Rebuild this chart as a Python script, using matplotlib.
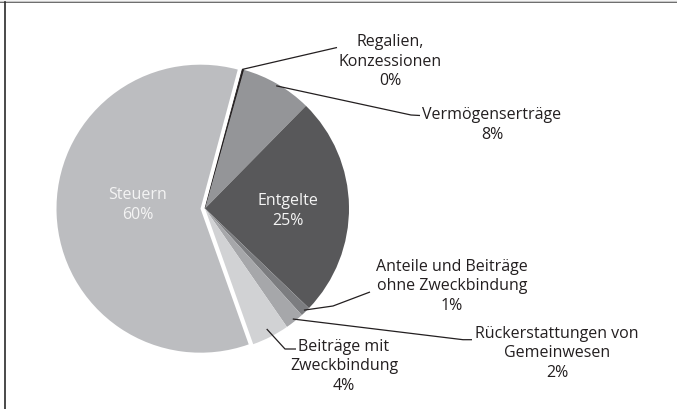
import numpy as np
import matplotlib
matplotlib.use("Agg")
import matplotlib.pyplot as plt
from matplotlib.lines import Line2D

W, H = 677, 410

categories = ["Regalien, Konzessionen", "Vermögenserträge", "Entgelte",
              "Anteile und Beiträge ohne Zweckbindung",
              "Rückerstattungen von Gemeinwesen",
              "Beiträge mit Zweckbindung", "Steuern"]
values = [0.2, 8.0, 24.8, 1.1, 2.1, 4.2, 59.6]
label_texts = ["Regalien,\nKonzessionen", "Vermögenserträge", "Entgelte",
               "Anteile und Beiträge\nohne Zweckbindung",
               "Rückerstattungen von\nGemeinwesen",
               "Beiträge mit\nZweckbindung", "Steuern"]
colors = ["#231f20", "#949598", "#58585a", "#7c7d80", "#a6a7aa", "#d1d2d4", "#bcbdc0"]

plt.rcParams['font.family'] = ['Open Sans', 'DejaVu Sans']

fig = plt.figure(figsize=(W / 100, H / 100), dpi=100)
ax = fig.add_axes([0, 0, 1, 1])

def py(y):
    return H - y

cx, cy, R = 205, py(209.5), 144
STEUERN_OFFSET = 4.5  # data units (pixels)
explode = [0] * (len(values) - 1) + [STEUERN_OFFSET]
wedges, _ = ax.pie(values, colors=colors, explode=explode, startangle=75,
                   counterclock=False, radius=R, center=(cx, cy), frame=True,
                   wedgeprops=dict(linewidth=0))
wedges[0].set_edgecolor("#231f20")
wedges[0].set_linewidth(0.6)
ax.set_xlim(0, W)
ax.set_ylim(0, H)
ax.axis("off")

txt_color = "#231f20"
fs = 11.5
ls = 1.3

def pct(v):
    return f"{round(v):.0f}%"

outside = [
    (0, 390, 61.5, [(337, 48.5)], "start", 1.0),
    (1, 492, 125, [(411, 116), (420, 116.5)], "mid", 0.985),
    (3, 452, 286.5, [(333, 307), (370, 293)], "mid", 0.985),
    (4, 557, 353.5, [(463, 340.7), (472, 340.7)], "mid", 0.98),
    (5, 344, 366.3, [(285, 350), (296, 350)], "mid", 0.94),
]
for i, tx, ty, pts, mode, rf in outside:
    w = wedges[i]
    if mode == "start":
        ang = np.deg2rad(w.theta2)
    else:
        ang = np.deg2rad((w.theta1 + w.theta2) / 2)
    x0 = w.center[0] + R * rf * np.cos(ang)
    y0 = w.center[1] + R * rf * np.sin(ang)
    xs = [x0] + [p[0] for p in pts]
    ys = [y0] + [py(p[1]) for p in pts]
    ax.plot(xs, ys, color=txt_color, lw=0.9, solid_capstyle="butt")
    ax.text(tx, py(ty), label_texts[i] + "\n" + pct(values[i]), ha="center", va="center",
            fontsize=fs, color=txt_color, linespacing=ls)

inside = [(2, 288, 211), (6, 137.5, 205)]
for i, tx, ty in inside:
    ax.text(tx, py(ty), label_texts[i] + "\n" + pct(values[i]), ha="center", va="center",
            fontsize=fs, color="#f4f4f4", linespacing=ls)

fig.add_artist(Line2D([0, 1], [1 - 3.2 / H, 1 - 3.2 / H], transform=fig.transFigure,
                      color="#3a3a3a", lw=1.2))
fig.add_artist(Line2D([0, 1], [1 - 1.5 / H, 1 - 1.5 / H], transform=fig.transFigure,
                      color="#c8c8c8", lw=1.0))
fig.add_artist(Line2D([4.5 / W, 4.5 / W], [0, 1 - 3.2 / H], transform=fig.transFigure,
                      color="#2a2a2a", lw=1.2))

fig.savefig("out.png", dpi=100, facecolor="white")
